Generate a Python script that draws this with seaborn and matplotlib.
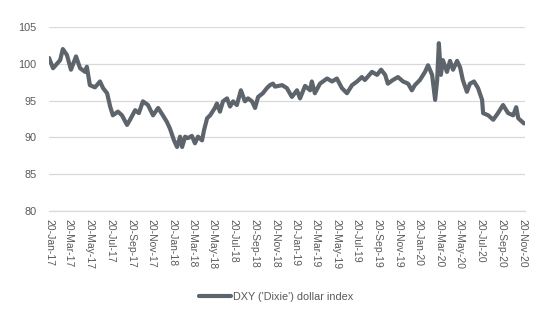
import matplotlib
matplotlib.use("Agg")
import matplotlib.pyplot as plt
import matplotlib.dates as mdates
import pandas as pd
import seaborn as sns

dates = [
    "2017-01-20", "2017-02-01", "2017-02-22", "2017-03-02", "2017-03-14", "2017-03-26",
    "2017-04-10", "2017-04-22", "2017-05-07", "2017-05-12", "2017-05-21", "2017-06-05",
    "2017-06-20", "2017-06-29", "2017-07-11", "2017-07-20", "2017-07-28", "2017-08-12",
    "2017-08-24", "2017-09-08", "2017-09-17", "2017-10-02", "2017-10-13", "2017-10-25",
    "2017-11-09", "2017-11-24", "2017-12-09", "2017-12-23", "2018-01-04", "2018-01-13",
    "2018-01-25", "2018-02-03", "2018-02-12", "2018-02-18", "2018-02-27", "2018-03-07",
    "2018-03-19", "2018-03-28", "2018-04-06", "2018-04-18", "2018-04-24", "2018-05-03",
    "2018-05-12", "2018-05-26", "2018-06-01", "2018-06-10", "2018-06-19", "2018-07-01",
    "2018-07-10", "2018-07-19", "2018-07-30", "2018-08-11", "2018-08-23", "2018-09-01",
    "2018-09-13", "2018-09-22", "2018-10-01", "2018-10-15", "2018-10-27", "2018-11-05",
    "2018-11-14", "2018-11-20", "2018-12-11", "2018-12-25", "2019-01-09", "2019-01-24",
    "2019-02-02", "2019-02-17", "2019-03-04", "2019-03-09", "2019-03-18", "2019-04-02",
    "2019-04-23", "2019-05-08", "2019-05-22", "2019-06-06", "2019-06-21", "2019-07-06",
    "2019-07-21", "2019-08-04", "2019-08-13", "2019-09-03", "2019-09-18", "2019-09-30",
    "2019-10-12", "2019-10-20", "2019-11-04", "2019-11-19", "2019-12-04", "2019-12-19",
    "2019-12-30", "2020-01-08", "2020-01-23", "2020-02-07", "2020-02-16", "2020-02-28",
    "2020-03-08", "2020-03-14", "2020-03-19", "2020-03-25", "2020-03-31", "2020-04-12",
    "2020-04-21", "2020-04-30", "2020-05-12", "2020-05-21", "2020-05-29", "2020-06-10",
    "2020-06-19", "2020-07-01", "2020-07-13", "2020-07-25", "2020-07-28", "2020-08-12",
    "2020-08-27", "2020-09-10", "2020-09-25", "2020-10-10", "2020-10-25", "2020-11-03",
    "2020-11-09", "2020-11-26",
]
dxy = [
    100.8, 99.4, 100.5, 102.0, 101.2, 99.2,
    101.0, 99.4, 98.9, 99.6, 97.1, 96.8,
    97.6, 96.7, 96.0, 94.2, 93.0, 93.5,
    93.0, 91.7, 92.4, 93.7, 93.3, 94.9,
    94.4, 93.0, 94.0, 93.0, 92.1, 91.2,
    89.6, 88.7, 90.1, 88.7, 90.1, 89.9,
    90.2, 89.2, 90.1, 89.6, 91.0, 92.6,
    93.0, 94.0, 94.6, 93.5, 94.9, 95.3,
    94.2, 94.9, 94.4, 96.4, 94.9, 95.3,
    94.9, 94.0, 95.5, 96.0, 96.7, 97.1,
    97.3, 96.9, 97.1, 96.7, 95.5, 96.4,
    95.3, 97.0, 96.4, 97.6, 96.0, 97.3,
    98.0, 97.6, 98.0, 96.7, 96.0, 97.1,
    97.6, 98.2, 97.8, 98.9, 98.5, 99.2,
    98.5, 97.3, 97.8, 98.2, 97.6, 97.3,
    96.4, 97.1, 97.8, 98.9, 99.8, 98.5,
    95.1, 97.8, 102.8, 98.5, 100.5, 98.9,
    100.4, 99.2, 100.4, 99.5, 97.8, 96.2,
    97.3, 97.6, 96.7, 95.1, 93.3, 93.0,
    92.4, 93.3, 94.4, 93.3, 93.0, 94.1,
    92.6, 91.9,
]
series_name = "DXY ('Dixie') dollar index"
tick_labels = [
    "20-Jan-17", "20-Mar-17", "20-May-17", "20-Jul-17", "20-Sep-17", "20-Nov-17",
    "20-Jan-18", "20-Mar-18", "20-May-18", "20-Jul-18", "20-Sep-18", "20-Nov-18",
    "20-Jan-19", "20-Mar-19", "20-May-19", "20-Jul-19", "20-Sep-19", "20-Nov-19",
    "20-Jan-20", "20-Mar-20", "20-May-20", "20-Jul-20", "20-Sep-20", "20-Nov-20",
]
tick_dates = pd.to_datetime(tick_labels, format="%d-%b-%y")

df = pd.DataFrame({"date": pd.to_datetime(dates), "value": dxy, "series": series_name})

sns.set_style("white")
plt.rcParams["font.family"] = ["Liberation Sans", "DejaVu Sans"]

fig = plt.figure(figsize=(5.5, 3.3), dpi=100)
ax = fig.add_axes([49 / 550, 1 - 211 / 330, 476 / 550, 184 / 330])

line_color = "#5d646c"
sns.lineplot(data=df, x="date", y="value", hue="series", palette=[line_color],
             linewidth=3.0, ax=ax, legend=False)

ax.set_ylim(80, 105)
ax.set_yticks([80, 85, 90, 95, 100, 105])
ax.set_xlim(pd.Timestamp("2017-01-20"), pd.Timestamp("2020-11-29"))
ax.set_xticks(tick_dates)
ax.set_xticklabels(tick_labels)

ax.grid(axis="y", color="#d9d9d9", linewidth=0.9)
ax.grid(axis="x", visible=False)
ax.set_axisbelow(True)
for s in ["top", "right", "left"]:
    ax.spines[s].set_visible(False)
ax.spines["bottom"].set_color("#d9d9d9")
ax.spines["bottom"].set_linewidth(0.9)

ax.tick_params(axis="x", which="major", length=4, width=0.8, color="#d9d9d9",
               labelsize=7.5, labelcolor="#595959", pad=2, rotation=270)
ax.tick_params(axis="y", length=0, labelsize=7.8, labelcolor="#595959", pad=9)
for lbl in ax.get_xticklabels():
    lbl.set_verticalalignment("top")
    lbl.set_horizontalalignment("center")
ax.set_xlabel("")
ax.set_ylabel("")

handle = plt.Line2D([], [], color=line_color, linewidth=3.0)
fig.legend([handle], [series_name], loc="center", bbox_to_anchor=(276 / 550, 1 - 297 / 330),
           frameon=False, fontsize=7.8, labelcolor="#595959", handlelength=3.0,
           handletextpad=0.2)

fig.savefig("out.png", dpi=100)
